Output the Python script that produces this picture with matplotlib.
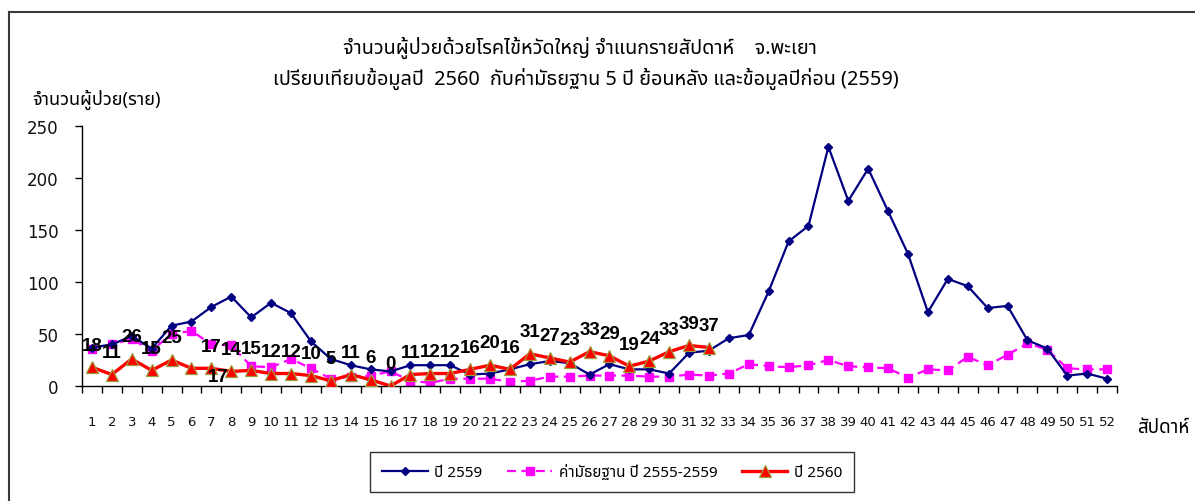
import matplotlib
matplotlib.use("Agg")
import matplotlib.pyplot as plt
from matplotlib import font_manager
from matplotlib.ft2font import FT2Font
from matplotlib.lines import Line2D

# ---------------- data ----------------
weeks = list(range(1, 53))
y2559 = [37, 40, 48, 36, 58, 62, 76, 86, 66, 80, 70, 43, 26, 20, 16, 14, 20, 20, 20, 11,
         12, 16, 21, 24, 22, 11, 21, 16, 16, 12, 32, 34, 46, 49, 91, 139, 154, 230, 178, 209,
         168, 127, 71, 103, 96, 75, 77, 44, 36, 10, 12, 7]
median = [36, 40, 45, 34, 50, 53, 40, 39, 19, 18, 26, 17, 7, 9, 10, 14, 5, 3, 7, 7,
          7, 4, 5, 9, 9, 10, 10, 10, 9, 9, 11, 10, 12, 21, 19, 18, 20, 25, 19, 18,
          17, 8, 16, 15, 28, 20, 30, 41, 35, 17, 16, 16]
y2560 = [18, 11, 26, 15, 25, 17, 17, 14, 15, 12, 12, 10, 5, 11, 6, 0, 11, 12, 12, 16,
         20, 16, 31, 27, 23, 33, 29, 19, 24, 33, 39, 37]
weeks2560 = weeks[:len(y2560)]

title1 = "จำนวนผู้ป่วยด้วยโรคไข้หวัดใหญ่ จำแนกรายสัปดาห์    จ.พะเยา"
title2 = "เปรียบเทียบข้อมูลปี  2560  กับค่ามัธยฐาน 5 ปี ย้อนหลัง และข้อมูลปีก่อน (2559)"
ylabel = "จำนวนผู้ป่วย(ราย)"
xlabel = "สัปดาห์"
legend_labels = ["ปี 2559", "ค่ามัธยฐาน ปี 2555-2559", "ปี 2560"]

# ---------------- fonts ----------------
def thai_fonts():
    names = []
    for f in font_manager.fontManager.ttflist:
        try:
            cm = FT2Font(f.fname).get_charmap()
            if 0x0E01 in cm and 0x0E33 in cm:
                if f.name not in names:
                    names.append(f.name)
        except Exception:
            pass
    return names

tf = thai_fonts()
pref = ["Tahoma", "Noto Sans Thai", "Noto Sans Thai UI", "Loma", "Garuda", "Sarabun",
        "TH Sarabun New", "Kinnari", "Norasi", "Waree", "Umpush", "Laksaman", "Sawasdee",
        "DejaVu Sans", "Noto Sans", "Arial Unicode MS", "FreeSans"]
thai = None
for p in pref:
    if p in tf:
        thai = p
        break
if thai is None and tf:
    thai = tf[0]
fam = ([thai] if thai else []) + ["DejaVu Sans"]
plt.rcParams["font.family"] = fam

# ---------------- figure ----------------
W, H = 1195, 502
fig = plt.figure(figsize=(W / 100, H / 100), dpi=100)
fig.patch.set_facecolor("white")

def fx(px):
    return px / W

def fy(py):
    return 1 - py / H

ax = fig.add_axes([fx(82), fy(387), fx(1117) - fx(82), fy(127) - fy(387)])

ax.plot(weeks, y2559, color="#000080", lw=1.6, marker="D", ms=4,
        mfc="#000080", mec="#000080", label=legend_labels[0], zorder=3)
ax.plot(weeks, median, color="#FF00FF", lw=1.6, ls=(0, (4, 2.5)), marker="s", ms=6,
        mfc="#FF00FF", mec="#FF00FF", label=legend_labels[1], zorder=2)
ax.plot(weeks2560, y2560, color="#FF0000", lw=2.4, marker="^", ms=8.5,
        mfc="#FF0000", mec="#9C9C3A", mew=0.9, label=legend_labels[2], zorder=4)

# data labels for 2560
offsets = {6: (19, -6)}
for w, v in zip(weeks2560, y2560):
    dx, dy = offsets.get(w, (0, 16))
    ax.annotate(str(v), (w, v), xytext=(dx, dy), textcoords="offset points",
                ha="center", va="center", fontsize=13.5, fontweight="bold",
                family=["Liberation Sans", "DejaVu Sans"], color="black", zorder=6)

ax.set_xlim(0.5, 52.5)
ax.set_ylim(0, 250)
ax.set_yticks([0, 50, 100, 150, 200, 250])
ax.set_xticks(weeks)
ax.set_xticklabels([str(w) for w in weeks])
ax.set_xticks([w + 0.5 for w in range(0, 53)], minor=True)
ax.tick_params(axis="x", which="major", length=0, pad=21, labelsize=9.5)
ax.tick_params(axis="x", which="minor", length=5, width=1, direction="out")
ax.tick_params(axis="y", which="major", length=5, width=1, direction="out",
               pad=12, labelsize=12)
for lab in ax.get_yticklabels() + ax.get_xticklabels():
    lab.set_family(["DejaVu Sans"])
    lab.set_color("#111111")
for s in ["top", "right"]:
    ax.spines[s].set_visible(False)
for s in ["left", "bottom"]:
    ax.spines[s].set_linewidth(1.0)
    ax.spines[s].set_color("black")

# texts
fig.text(fx(580), fy(48), title1, ha="center", va="center", fontsize=14.3)
fig.text(fx(586), fy(79), title2, ha="center", va="center", fontsize=14.3)
fig.text(fx(32), fy(100), ylabel, ha="left", va="center", fontsize=13)
fig.text(fx(1137), fy(428), xlabel, ha="left", va="center", fontsize=13.5)

# legend
leg = fig.legend(loc="center", bbox_to_anchor=(fx(612), fy(473)), ncol=3,
                 frameon=True, fancybox=False, fontsize=11, handlelength=3.0,
                 columnspacing=1.6, borderpad=0.8, handletextpad=0.4)
leg.get_frame().set_edgecolor("black")
leg.get_frame().set_linewidth(1.0)

# outer frame (partially visible)
fig.add_artist(Line2D([fx(9), fx(9)], [0, fy(13)], color="#3a3a3a", lw=1.5,
                      transform=fig.transFigure))
fig.add_artist(Line2D([fx(9), 1.0], [fy(13), fy(13)], color="#3a3a3a", lw=1.5,
                      transform=fig.transFigure))

fig.savefig("out.png", dpi=100, facecolor="white")
